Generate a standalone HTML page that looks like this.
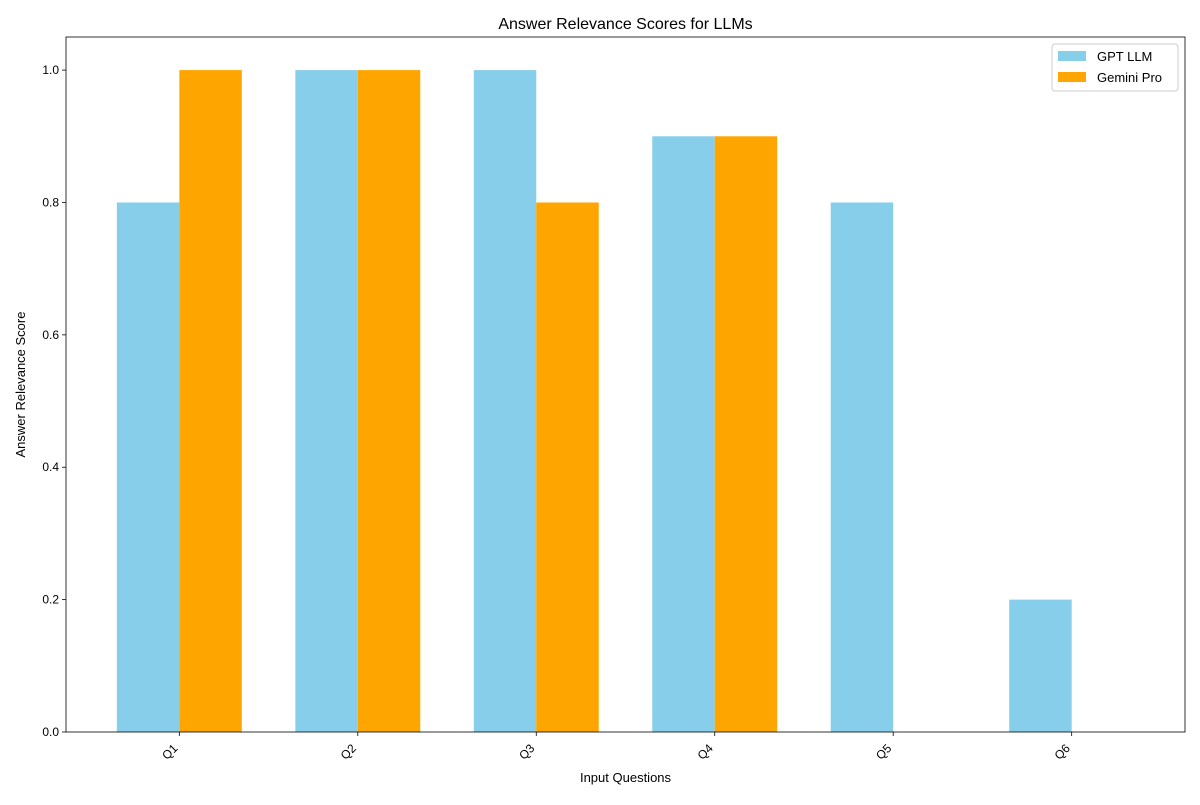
<!DOCTYPE html>
<html><head><meta charset="utf-8"><style>
body{margin:0;background:#fff;}
text{font-family:"Liberation Sans","DejaVu Sans",sans-serif;}
</style></head><body>
<svg id="chart" width="1200" height="800" xmlns="http://www.w3.org/2000/svg"></svg>
<script>
const categories = ["Q1","Q2","Q3","Q4","Q5","Q6"];
const gptValues = [0.8,1.0,1.0,0.9,0.8,0.2];
const geminiValues = [1.0,1.0,0.8,0.9,0.0,0.0];
const yTicks = [0.0,0.2,0.4,0.6,0.8,1.0];
const seriesNames = ["GPT LLM","Gemini Pro"];

const NS="http://www.w3.org/2000/svg";
const svg=document.getElementById('chart');
const L=66,R=1185,T=37,B=732;
const barW=0.35, xmin=-0.35-0.285, xmax=categories.length-1+0.35+0.285;
const xs=v=>L+(v-xmin)/(xmax-xmin)*(R-L);
const ys=v=>B-(v/1.05)*(B-T);
function mk(tag,attrs,txt){const e=document.createElementNS(NS,tag);for(const k in attrs)e.setAttribute(k,attrs[k]);if(txt!=null)e.textContent=txt;svg.appendChild(e);return e;}

categories.forEach((c,i)=>{
  const g=mk('rect',{x:xs(i-barW),y:ys(gptValues[i]),width:xs(i)-xs(i-barW),height:B-ys(gptValues[i]),fill:'#87ceeb'});
  
  
  const m=mk('rect',{x:xs(i),y:ys(geminiValues[i]),width:xs(i+barW)-xs(i),height:B-ys(geminiValues[i]),fill:'#ffa500'});
  
  
  mk('line',{x1:xs(i),x2:xs(i),y1:B,y2:B+4,stroke:'#000','stroke-width':0.8});
  const t=mk('text',{x:0,y:0,'font-size':12,'text-anchor':'end',transform:`translate(${xs(i)-1},${B+17}) rotate(-45)`},c);
  
  
});
yTicks.forEach(v=>{
  mk('line',{x1:L-4,x2:L,y1:ys(v),y2:ys(v),stroke:'#000','stroke-width':0.8});
  const t=mk('text',{x:L-7,y:ys(v)+4,'font-size':12,'text-anchor':'end'},v.toFixed(1));
  
  
});
const frame=mk('rect',{x:L,y:T,width:R-L,height:B-T,fill:'none',stroke:'#000','stroke-width':0.8});


const title=mk('text',{x:(L+R)/2,y:29,'font-size':16,'text-anchor':'middle'},'Answer Relevance Scores for LLMs');


const xt=mk('text',{x:(L+R)/2,y:782,'font-size':13,'text-anchor':'middle'},'Input Questions');


const yt=mk('text',{x:0,y:0,'font-size':13,'text-anchor':'middle',transform:`translate(25,${(T+B)/2}) rotate(-90)`},'Answer Relevance Score');


const lg=mk('rect',{x:1052,y:44,width:126,height:47,fill:'#fff',stroke:'#ccc',rx:3});


const cols=['#87ceeb','#ffa500'];
seriesNames.forEach((n,i)=>{
  mk('rect',{x:1058,y:51+i*21,width:28,height:10,fill:cols[i]});
  const t=mk('text',{x:1097,y:61+i*21,'font-size':13},n);
  
  
});
</script>
</body></html>
